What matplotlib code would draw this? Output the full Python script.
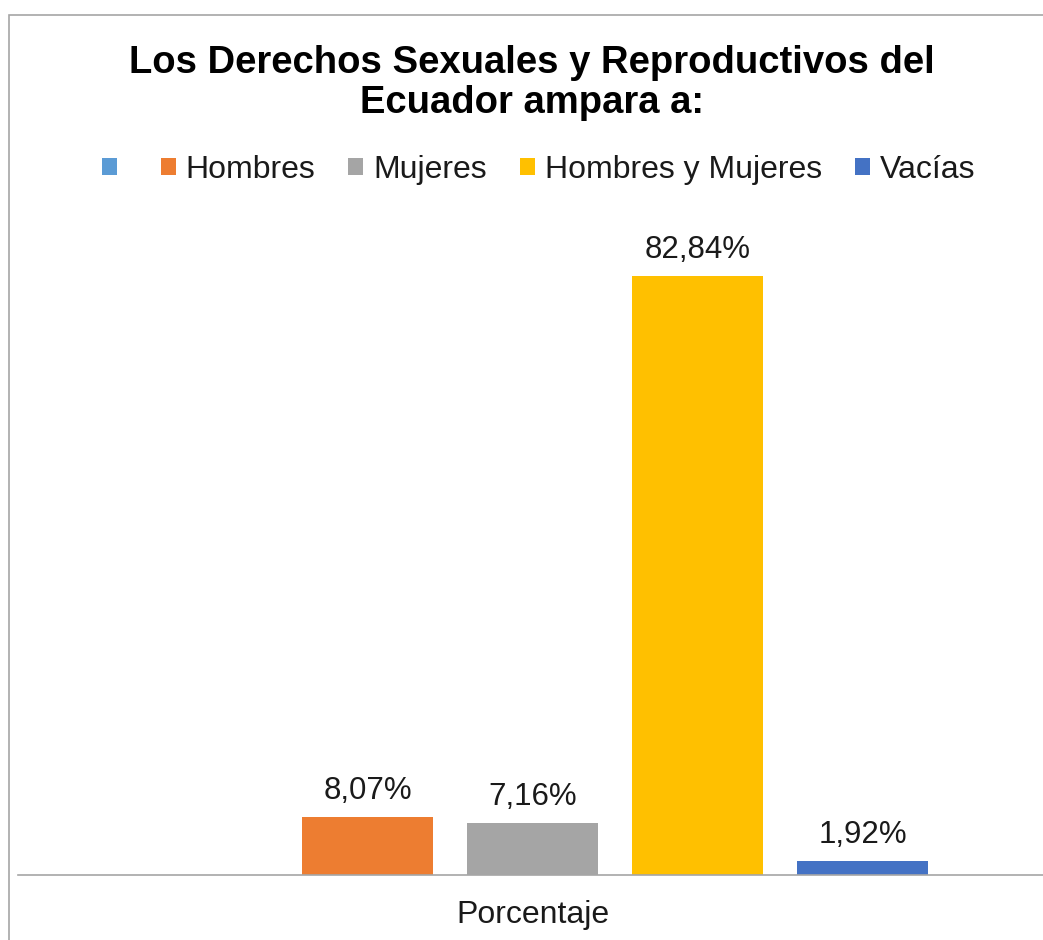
import numpy as np
import matplotlib.pyplot as plt
from matplotlib.patches import Rectangle

plt.rcParams['font.family'] = ['Liberation Sans', 'DejaVu Sans']

# data
series = ['', 'Hombres', 'Mujeres', 'Hombres y Mujeres', 'Vacías']
values = [0, 8.07, 7.16, 82.84, 1.92]
colors = ['#5B9BD5', '#ED7D31', '#A5A5A5', '#FFC000', '#4472C4']
category = 'Porcentaje'

W, H = 1043, 940
fig = plt.figure(figsize=(W / 100, H / 100), dpi=100)

# outer chart border (cut by the image edge on the right and bottom)
fig.patches.append(Rectangle((9 / W, -0.1), 1.2, (H - 15) / H + 0.1,
                             transform=fig.transFigure, fill=False,
                             edgecolor='#A6A6A6', linewidth=1.2))

ax = fig.add_axes([18 / W, (H - 875) / H, 1029 / W, 651 / H])

n = len(series)
x = np.arange(n) - (n - 1) / 2
width = 131 / 165
bars = []
for xi, v, c, s in zip(x, values, colors, series):
	b = ax.bar(xi, v, width=width, color=c, label=s)
	bars.append(b)
	if v > 0:
		lab = f'{v:.2f}%'.replace('.', ',')
		ax.annotate(lab, (xi, v), xytext=(0, 8), textcoords='offset points',
		            ha='center', va='bottom', fontsize=22.5, color='#1a1a1a')

half = 1029 / 165 / 2
ax.set_xlim(-half, half)
ax.set_ylim(0, 90)
ax.set_xticks([0])
ax.set_xticklabels([category], fontsize=23, color='#1a1a1a')
ax.tick_params(axis='x', length=0, pad=18)
ax.set_yticks([])
for sp in ['top', 'right', 'left']:
	ax.spines[sp].set_visible(False)
ax.spines['bottom'].set_color('#A6A6A6')
ax.spines['bottom'].set_linewidth(1.2)

fig.text(532 / W, 1 - 83 / H, 'Los Derechos Sexuales y Reproductivos del\nEcuador ampara a:',
         ha='center', va='center', fontsize=27.5, fontweight='bold', linespacing=1.13)

handles = [b[0] for b in bars]
fig.legend(handles, series, loc='center', bbox_to_anchor=(539 / W, 1 - 170 / H),
           ncol=n, frameon=False, fontsize=23, handlelength=0.47, handleheight=0.47,
           handletextpad=0.3, columnspacing=1.05, labelcolor='#1a1a1a')

fig.savefig('out.png', dpi=100)
